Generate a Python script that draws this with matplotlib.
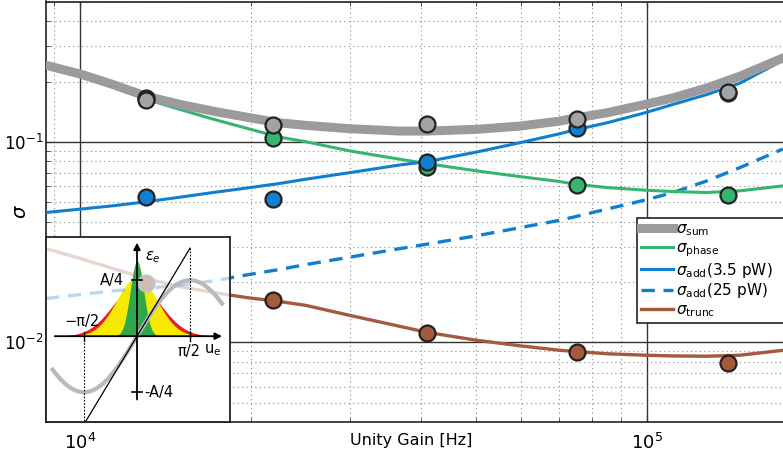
import numpy as np
import matplotlib
matplotlib.use("Agg")
import matplotlib.pyplot as plt
from matplotlib.ticker import NullFormatter

plt.rcParams['font.family'] = ['DejaVu Sans']
plt.rcParams['mathtext.fontset'] = 'dejavusans'

# unity gain frequencies [Hz] for the curves
freq = [8710, 10040, 11430, 13070, 14950, 17160, 19620, 22440, 25040,
        29940, 36680, 40930, 50150, 59700, 70250, 74050, 85020, 99190,
        111130, 127620, 145880, 173740]
sig_sum = [0.2416, 0.2180, 0.1937, 0.1694, 0.1545, 0.1426, 0.1332, 0.1247,
           0.1211, 0.1165, 0.1134, 0.1134, 0.1157, 0.1201, 0.1272, 0.1312,
           0.1399, 0.1540, 0.1661, 0.1863, 0.2130, 0.2627]
sig_phase = [0.2361, 0.2130, 0.1878, 0.1637, 0.1459, 0.1301, 0.1174, 0.1059,
             0.1003, 0.0902, 0.08202, 0.07799, 0.07173, 0.0672, 0.06346,
             0.0618, 0.05925, 0.0575, 0.05659, 0.05594, 0.05704, 0.06041]
sig_add_35 = [0.04449, 0.04626, 0.04804, 0.05029, 0.05295, 0.05594, 0.05884,
              0.06202, 0.06523, 0.07035, 0.07683, 0.0798, 0.08918, 0.0992,
              0.1100, 0.1143, 0.1247, 0.1399, 0.1540, 0.1727, 0.1966, 0.2558]
sig_add_25 = [0.01656, 0.01733, 0.01806, 0.01856, 0.01932, 0.02023, 0.02167,
              0.02308, 0.02444, 0.02663, 0.02936, 0.0309, 0.03406, 0.03734,
              0.04069, 0.04211, 0.04626, 0.05128, 0.05594, 0.06397, 0.0745,
              0.0923]
sig_trunc = [0.02936, 0.02618, 0.02334, 0.02081, 0.01899, 0.01773, 0.01674,
             0.01599, 0.01528, 0.01362, 0.01201, 0.01121, 0.01023, 0.009607,
             0.00912, 0.00902, 0.008766, 0.00862, 0.008548, 0.00852, 0.00862,
             0.00912]

# measured points
freq_pts = [13070, 21900, 40930, 75260, 138950]
pts_sum = [0.1612, 0.1215, 0.1225, 0.1306, 0.1773]
pts_phase = [0.1661, 0.1043, 0.0751, 0.0611, 0.0543]
pts_add = [0.05325, 0.05187, 0.07955, 0.1170, 0.1760]
pts_trunc = [0.01966, 0.01618, 0.01109, 0.00892, 0.00786]

c_sum = '#9b9b9d'
c_phase = '#35b56f'
c_add = '#0f7fcf'
c_trunc = '#a65a3d'

fig = plt.figure(figsize=(7.83, 4.55), dpi=100)
ax = fig.add_axes([46 / 783, 33 / 455, 737 / 783, 420.5 / 455])
ax.set_xscale('log')
ax.set_yscale('log')

ax.plot(freq, sig_add_25, color=c_add, lw=2.4, dashes=(4, 2.6),
        label=r'$\sigma_{\rm add}$(25 pW)', zorder=3)
ax.plot(freq, sig_trunc, color=c_trunc, lw=2.4,
        label=r'$\sigma_{\rm trunc}$', zorder=3)
ax.plot(freq, sig_phase, color=c_phase, lw=2.2,
        label=r'$\sigma_{\rm phase}$', zorder=3)
ax.plot(freq, sig_add_35, color=c_add, lw=2.2,
        label=r'$\sigma_{\rm add}$(3.5 pW)', zorder=3)
ax.plot(freq, sig_sum, color=c_sum, lw=6.5, solid_joinstyle='round',
        label=r'$\sigma_{\rm sum}$', zorder=4)

mk = dict(ls='none', marker='o', ms=11.5, mec='#222222', mew=1.6, zorder=5)
ax.plot(freq_pts, pts_phase, mfc=c_phase, **mk)
ax.plot(freq_pts, pts_add, mfc=c_add, **mk)
ax.plot(freq_pts, pts_sum, mfc='#a3a3a5', **mk)
ax.plot(freq_pts, pts_trunc, mfc=c_trunc, **mk)

ax.set_xlim(8710, 173800)
ax.set_ylim(0.004, 0.503)
ax.grid(which='minor', ls=(0, (1, 3)), color='#888888', lw=0.8)
ax.grid(which='major', ls='-', color='#333333', lw=1.0)
ax.xaxis.set_minor_formatter(NullFormatter())
ax.yaxis.set_minor_formatter(NullFormatter())
ax.tick_params(which='both', direction='in', top=True, right=False,
               color='#333333')
ax.tick_params(axis='x', labelsize=13, pad=8)
ax.tick_params(axis='y', labelsize=12, pad=2)
ax.tick_params(which='major', length=5)
ax.tick_params(which='minor', length=3)
ax.spines['right'].set_visible(False)
for s in ['left', 'bottom', 'top']:
    ax.spines[s].set_linewidth(1.2)
    ax.spines[s].set_color('#222222')

ax.set_xlabel('Unity Gain [Hz]', fontsize=11.5)
ax.xaxis.set_label_coords(0.495, -0.045)
ax.xaxis.label.set_va('center')
ax.set_ylabel(r'$\sigma$', fontsize=14)
ax.yaxis.set_label_coords(-0.022, 0.5)

h, l = ax.get_legend_handles_labels()
order = [4, 2, 3, 0, 1]
leg = ax.legend([h[i] for i in order], [l[i] for i in order],
                loc='upper left', bbox_to_anchor=(0.802, 0.236, 0.3, 0.25),
                mode='expand', fontsize=11, frameon=True, fancybox=False,
                framealpha=1, edgecolor='#222222', handlelength=2.1,
                handletextpad=0.2, labelspacing=0.12, borderpad=0.25,
                borderaxespad=0)
leg.get_frame().set_linewidth(1.2)
leg.set_zorder(10)

# inset: schematic of the error signal
ax_in = fig.add_axes([46 / 783, 33.5 / 455, 184 / 783, 185 / 455])
ax_in.set_autoscale_on(False)
ax_in.set_facecolor('white')
ax_in.set_xticks([])
ax_in.set_yticks([])
for s in ax_in.spines.values():
    s.set_linewidth(1.3)
    s.set_color('#222222')

# faint main curves seen through the inset
ax_in.plot(freq, sig_trunc, transform=ax.transData, color=c_trunc,
           lw=2.4, alpha=0.25)
ax_in.plot(freq, sig_add_25, transform=ax.transData, color=c_add,
           lw=2.4, dashes=(4, 2.6), alpha=0.3)
ax_in.plot(freq_pts[:1], pts_trunc[:1], transform=ax.transData, ls='none',
           marker='o', ms=11.5, mfc='#cdbcb6', mec='#c4c4c4', mew=1.6)

u = np.linspace(-2.5, 2.52, 300)
ax_in.plot(u, np.sin(u), color='#b9b9b9', lw=3.0)

# distributions (red widest, green narrowest)
dist_height = [0.9, 1.05, 1.34]
dist_width = [0.72, 0.6, 0.2]
dist_color = ['#e8202a', '#f7ea00', '#2ea84a']
g = np.linspace(-2.4, 2.4, 400)
for hgt, wid, col in zip(dist_height, dist_width, dist_color):
    ax_in.fill_between(g, 0, hgt * np.exp(-g ** 2 / (2 * wid ** 2)),
                       color=col, lw=0)

half_pi = np.pi / 2
ax_in.plot([-half_pi, half_pi], [-half_pi, half_pi], color='black', lw=0.9)
ax_in.plot([-half_pi, -half_pi], [0, -half_pi], color='black', lw=0.8,
           ls=(0, (1.5, 1.5)))
ax_in.plot([half_pi, half_pi], [0, half_pi], color='black', lw=0.8,
           ls=(0, (1.5, 1.5)))

arrow = dict(arrowstyle='-|>', color='black', lw=1.3, mutation_scale=10)
ax_in.annotate('', xy=(2.6, 0), xytext=(-2.52, 0), arrowprops=arrow)
ax_in.annotate('', xy=(0, 1.72), xytext=(0, -1.18), arrowprops=arrow)
for yy in [1, -1]:
    ax_in.plot([-0.16, 0.14], [yy, yy], color='black', lw=1.2)
for xx in [-half_pi, half_pi]:
    ax_in.plot([xx, xx], [-0.08, 0.08], color='black', lw=1.0)

fs = 10.5
ax_in.text(0.24, 1.42, r'$\varepsilon_e$', fontsize=fs, ha='left', va='center')
ax_in.text(-0.38, 1.0, 'A/4', fontsize=fs, ha='right', va='center')
ax_in.text(-1.64, 0.27, '\u2212\u03c0/2', fontsize=fs, ha='center', va='center')
ax_in.text(1.53, -0.27, '\u03c0/2', fontsize=fs, ha='center', va='center')
ax_in.text(2.24, -0.25, r'u$_{\rm e}$', fontsize=fs, ha='center', va='center')
ax_in.text(0.22, -1.0, '-A/4', fontsize=fs, ha='left', va='center')

ax_in.set_xlim(-2.697, 2.756)
ax_in.set_ylim(-1.523, 1.78)

fig.savefig('out.png', dpi=100)
